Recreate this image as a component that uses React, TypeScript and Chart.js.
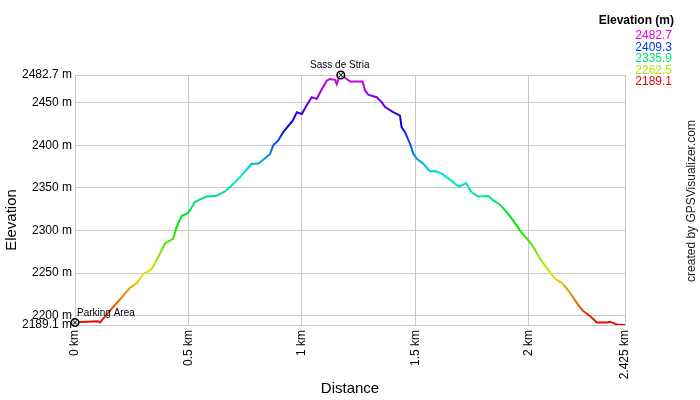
import React, { useEffect, useRef } from "react";
import { Chart, registerables } from "chart.js";

Chart.register(...registerables);

// Track profile (distance in km, elevation in m)
const distanceKm = [
  0, 0.022, 0.049, 0.101, 0.11, 0.154, 0.198, 0.243, 0.272, 0.301, 0.338, 0.375, 0.397, 0.433,
  0.448, 0.47, 0.499, 0.529, 0.551, 0.581, 0.625, 0.661, 0.691, 0.728, 0.779, 0.808, 0.845,
  0.86, 0.874, 0.896, 0.918, 0.96, 0.978, 1.0, 1.021, 1.044, 1.066, 1.088, 1.11, 1.124, 1.146,
  1.154, 1.161, 1.172, 1.198, 1.213, 1.268, 1.279, 1.293, 1.33, 1.352, 1.367, 1.403, 1.433,
  1.44, 1.455, 1.477, 1.492, 1.507, 1.536, 1.565, 1.587, 1.617, 1.653, 1.69, 1.705, 1.724,
  1.749, 1.778, 1.822, 1.844, 1.874, 1.903, 1.932, 1.962, 1.999, 2.021, 2.05, 2.087, 2.116,
  2.146, 2.168, 2.19, 2.219, 2.241, 2.271, 2.301, 2.345, 2.359, 2.388, 2.425,
];
const elevationM = [
  2192, 2192.5, 2193, 2193.5, 2192, 2206, 2219, 2233, 2238, 2248.8, 2254.6, 2273, 2284.8, 2290.6,
  2304, 2317, 2320.6, 2333.5, 2336.7, 2340, 2341, 2346, 2353, 2362.8, 2378.5, 2378.5, 2386.3,
  2390, 2400, 2405.9, 2415.6, 2429, 2439, 2437, 2446.9, 2456.6, 2454.7, 2466, 2476, 2478, 2477,
  2472, 2478, 2482.7, 2478, 2475, 2475, 2464.5, 2459.5, 2456.6, 2450.8, 2445, 2439, 2435,
  2421.4, 2415.6, 2402, 2390, 2384.4, 2378.5, 2369.5, 2370, 2366.8, 2359.8, 2352, 2353, 2355.8,
  2345, 2340, 2340.5, 2335.5, 2330.4, 2321.8, 2312, 2300, 2288.6, 2280.8, 2267, 2253.5, 2243.7,
  2238.6, 2232, 2224, 2212.4, 2205.4, 2199.5, 2192, 2192, 2193, 2189.8, 2189.1,
];

// Waypoints
const waypointKm = [0, 1.172];
const waypointElev = [2192, 2482.7];
const waypointNames = ["Parking Area", "Sass de Stria"];

// Axis ticks
const xTicks = [0, 0.5, 1, 1.5, 2, 2.425];
const yTicks = [2189.1, 2200, 2250, 2300, 2350, 2400, 2450, 2482.7];

// Colour legend
const legendValues = [2482.7, 2409.3, 2335.9, 2262.5, 2189.1];

const ELEV_MIN = 2189.1;
const ELEV_MAX = 2482.7;
const FONT = "'Liberation Sans', Arial, sans-serif";

function hueFor(v: number) {
  const f = (v - ELEV_MIN) / (ELEV_MAX - ELEV_MIN);
  return `hsl(${300 * f}, 100%, 45%)`;
}

const textPlugin = {
  id: "gpsTexts",
  afterDraw(chart: any) {
    const { ctx } = chart;
    const xs = chart.scales.x;
    const ys = chart.scales.y;
    ctx.save();
    ctx.fillStyle = "#000";
    ctx.font = `10px ${FONT}`;
    ctx.textBaseline = "middle";
    waypointNames.forEach((name, i) => {
      const px = xs.getPixelForValue(waypointKm[i]);
      const py = ys.getPixelForValue(waypointElev[i]);
      if (i === 0) {
        ctx.textAlign = "left";
        ctx.fillText(name, px + 2, py - 9);
      } else {
        ctx.textAlign = "center";
        ctx.fillText(name, px - 1, py - 10);
      }
    });

    // y-axis title
    ctx.save();
    ctx.translate(12, 220);
    ctx.rotate(-Math.PI / 2);
    ctx.textAlign = "center";
    ctx.fillStyle = "#000";
    ctx.font = `15px ${FONT}`;
    ctx.fillText("Elevation", 0, 0);
    ctx.restore();

    // legend
    ctx.textAlign = "right";
    ctx.font = `bold 12px ${FONT}`;
    ctx.fillStyle = "#000";
    ctx.fillText("Elevation (m)", 674, 21);
    ctx.font = `12px ${FONT}`;
    legendValues.forEach((v, i) => {
      ctx.fillStyle = hueFor(v);
      ctx.fillText(v.toFixed(1), 672, 36 + i * 11.5);
    });

    // credit
    ctx.translate(692, 201);
    ctx.rotate(-Math.PI / 2);
    ctx.textAlign = "center";
    ctx.fillStyle = "#222";
    ctx.font = `12px ${FONT}`;
    ctx.fillText("created by GPSVisualizer.com", 0, 0);
    ctx.restore();
  },
};

export default function App() {
  const canvasRef = useRef<HTMLCanvasElement | null>(null);

  useEffect(() => {
    document.body.style.margin = "0";
    const canvas = canvasRef.current;
    if (!canvas) return;
    Chart.defaults.font.family = FONT;
    Chart.defaults.color = "#000";

    const profile = distanceKm.map((d, i) => ({ x: d, y: elevationM[i] }));
    const wps = waypointKm.map((d, i) => ({ x: d, y: waypointElev[i] }));

    const chart = new Chart(canvas, {
      type: "line",
      data: {
        datasets: [
          {
            data: wps,
            showLine: false,
            clip: false,
            pointStyle: "crossRot",
            pointRadius: 3,
            pointBorderColor: "#000",
            pointBorderWidth: 1,
            pointBackgroundColor: "#000",
          } as any,
          {
            data: wps,
            showLine: false,
            clip: false,
            pointStyle: "circle",
            pointRadius: 3.8,
            pointBorderColor: "#000",
            pointBorderWidth: 1.5,
            pointBackgroundColor: "#e0e0e0",
          } as any,
          {
            data: profile,
            borderWidth: 2,
            pointRadius: 0,
            tension: 0,
            fill: false,
            borderColor: (c: any) => {
              const ch = c.chart;
              if (!ch.chartArea) return "#e00";
              const ys = ch.scales.y;
              const y0 = ys.getPixelForValue(ELEV_MIN);
              const y1 = ys.getPixelForValue(ELEV_MAX);
              const g = ch.ctx.createLinearGradient(0, y0, 0, y1);
              for (let i = 0; i <= 5; i++) g.addColorStop(i / 5, `hsl(${60 * i}, 100%, 45%)`);
              return g;
            },
          } as any,
        ],
      },
      options: {
        responsive: false,
        animation: false,
        layout: { padding: { top: 75, right: 75, left: 0, bottom: 0 } },
        plugins: { legend: { display: false }, tooltip: { enabled: false } },
        scales: {
          x: {
            type: "linear",
            min: 0,
            max: 2.425,
            afterBuildTicks: (s: any) => {
              s.ticks = xTicks.map((v) => ({ value: v }));
            },
            afterFit: (s: any) => {
              s.height = 75;
            },
            ticks: {
              autoSkip: false,
              minRotation: 90,
              maxRotation: 90,
              padding: 5,
              font: { size: 12 },
              color: "#000",
              callback: (v: any) => `${v} km`,
            },
            grid: { color: "#c8c8c8", drawTicks: false },
            border: { color: "#c8c8c8" },
            title: {
              display: true,
              text: "Distance",
              font: { size: 15 },
              color: "#000",
              padding: { top: 4, bottom: 2 },
            },
          },
          y: {
            type: "linear",
            min: ELEV_MIN,
            max: ELEV_MAX,
            afterBuildTicks: (s: any) => {
              s.ticks = yTicks.map((v) => ({ value: v }));
            },
            afterFit: (s: any) => {
              s.width = 75;
            },
            ticks: {
              autoSkip: false,
              padding: 3,
              font: { size: 12 },
              color: "#000",
              callback: (v: any) => `${v} m`,
            },
            grid: { color: "#c8c8c8", drawTicks: false },
            border: { color: "#c8c8c8" },
            title: { display: false },
          },
        },
      },
      plugins: [textPlugin],
    } as any);

    return () => chart.destroy();
  }, []);

  return (
    <div style={{ position: "absolute", left: 0, top: 0, width: 700, height: 400, background: "#fff" }}>
      <canvas ref={canvasRef} width={700} height={400} />
    </div>
  );
}
